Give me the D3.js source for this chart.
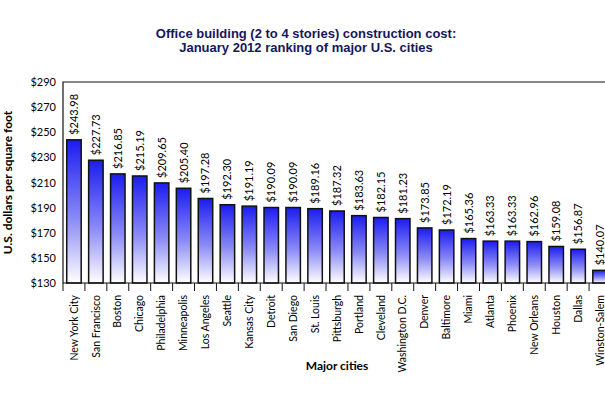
<!DOCTYPE html>
<html>
<head>
<meta charset="utf-8">
<script src="https://cdn.jsdelivr.net/npm/d3@7"></script>
<style>
  body { margin: 0; background: #fff; overflow: hidden; }
  .axis text { font-family: Lato, "DejaVu Sans", sans-serif; font-size: 11px; fill: #000; }
</style>
</head>
<body>
<svg id="chart" width="605" height="397"></svg>
<script>
/* data */
let cities = [
    "New York City", "San Francisco", "Boston", "Chicago", "Philadelphia",
    "Minneapolis", "Los Angeles", "Seattle", "Kansas City", "Detroit",
    "San Diego", "St. Louis", "Pittsburgh", "Portland", "Cleveland",
    "Washington D.C.", "Denver", "Baltimore", "Miami", "Atlanta",
    "Phoenix", "New Orleans", "Houston", "Dallas", "Winston-Salem"
]
let costs = [
    243.98, 227.73, 216.85, 215.19, 209.65,
    205.40, 197.28, 192.30, 191.19, 190.09,
    190.09, 189.16, 187.32, 183.63, 182.15,
    181.23, 173.85, 172.19, 165.36, 163.33,
    163.33, 162.96, 159.08, 156.87, 140.07
]
let yTicks = [130, 150, 170, 190, 210, 230, 250, 270, 290]
let titleLines = ["Office building (2 to 4 stories) construction cost:", "January 2012 ranking of major U.S. cities"]

let svg = d3.select("svg#chart")

/* plot box - runs off the right edge like the original */
let plot = { left: 63, top: 82, right: 611, bottom: 283 }

let xScale = d3.scaleBand()
    .domain(cities)
    .range([plot.left, plot.right])
    .paddingInner(0.34)
    .paddingOuter(0.17)

let yScale = d3.scaleLinear()
    .domain([130, 290])
    .range([plot.bottom, plot.top])

/* bar gradient */
let grad = svg.append("defs").append("linearGradient")
    .attr("id", "barFill")
    .attr("x1", 0).attr("x2", 0).attr("y1", 0).attr("y2", 1)
grad.append("stop").attr("offset", "0%").attr("stop-color", "#1c1cf0")
grad.append("stop").attr("offset", "55%").attr("stop-color", "#8a8af6")
grad.append("stop").attr("offset", "100%").attr("stop-color", "#ffffff")

/* title */
svg.append("text")
    .attr("x", 306)
    .attr("y", 38)
    .style("text-anchor", "middle")
    .style("font-family", "'Liberation Sans', Arial, sans-serif")
    .style("font-weight", "bold")
    .style("font-size", "13px")
    .style("fill", "#16165c")
    .selectAll("tspan")
    .data(titleLines)
    .enter().append("tspan")
    .attr("x", 306)
    .attr("dy", (d, i) => i == 0 ? 0 : 14)
    .text(d => d)

/* bars */
svg.selectAll("rect.bar")
    .data(costs)
    .enter().append("rect")
    .attr("class", "bar")
    .attr("x", (d, i) => xScale(cities[i]))
    .attr("y", d => yScale(d))
    .attr("width", xScale.bandwidth())
    .attr("height", d => plot.bottom - yScale(d))
    .style("fill", "url(#barFill)")
    .style("stroke", "#111")
    .style("stroke-width", "1.5px")

/* value labels */
svg.selectAll("text.value")
    .data(costs)
    .enter().append("text")
    .attr("class", "value")
    .attr("transform", (d, i) => "translate(" + (xScale(cities[i]) + xScale.bandwidth() / 2 + 4) + "," + (yScale(d) - 5) + ")rotate(-90)")
    .style("font-family", "Lato, 'DejaVu Sans', sans-serif")
    .style("font-size", "11px")
    .style("fill", "#000")
    .text(d => "$" + d.toFixed(2))

/* y axis */
let yAxis = d3.axisLeft(yScale)
    .tickValues(yTicks)
    .tickSize(0)
    .tickPadding(7)
    .tickFormat(d => "$" + d)
let yAxisG = svg.append("g")
    .attr("class", "axis")
    .attr("transform", "translate(" + plot.left + ",0)")
    .call(yAxis)
yAxisG.select("path.domain").remove()

/* x axis, labels only */
let xAxis = d3.axisBottom(xScale)
    .tickSize(0)
    .tickPadding(0)
let xAxisG = svg.append("g")
    .attr("class", "axis")
    .attr("transform", "translate(0," + plot.bottom + ")")
    .call(xAxis)
xAxisG.select("path.domain").remove()
xAxisG.selectAll(".tick text")
    .attr("transform", "rotate(-90)")
    .attr("x", -12)
    .attr("y", 0)
    .attr("dy", "0.35em")
    .style("text-anchor", "end")
    .style("font-size", "10.5px")

/* short separators between categories below the axis */
let step = xScale.step()
let firstEdge = xScale(cities[0]) - xScale.paddingInner() * step / 2
svg.selectAll("line.sep")
    .data(d3.range(cities.length + 1))
    .enter().append("line")
    .attr("class", "sep")
    .attr("x1", i => i == 0 ? plot.left : firstEdge + i * step)
    .attr("x2", i => i == 0 ? plot.left : firstEdge + i * step)
    .attr("y1", plot.bottom)
    .attr("y2", plot.bottom + 8)
    .style("stroke", "#111")
    .style("stroke-width", "1px")

/* frame */
svg.append("path")
    .attr("d", "M" + plot.right + "," + plot.top + "H" + plot.left + "V" + plot.bottom + "H" + plot.right)
    .style("fill", "none")
    .style("stroke", "#111")
    .style("stroke-width", "1.2px")

/* axes labels */
svg.append("text")
    .attr("transform", "translate(12," + ((plot.top + plot.bottom) / 2) + ")rotate(-90)")
    .style("text-anchor", "middle")
    .style("font-family", "Lato, 'DejaVu Sans', sans-serif")
    .style("font-weight", "bold")
    .style("font-size", "12px")
    .text("U.S. dollars per square foot")

svg.append("text")
    .attr("x", 337)
    .attr("y", 370)
    .style("text-anchor", "middle")
    .style("font-family", "Lato, 'DejaVu Sans', sans-serif")
    .style("font-weight", "bold")
    .style("font-size", "12px")
    .text("Major cities")
</script>
</body>
</html>
